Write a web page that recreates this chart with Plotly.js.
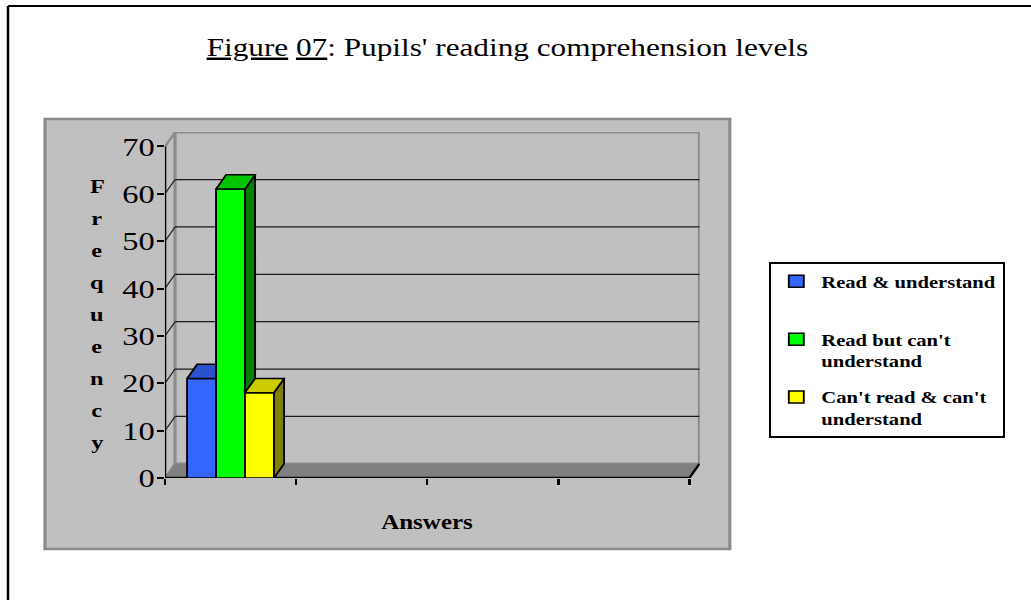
<!DOCTYPE html>
<html><head><meta charset="utf-8">
<script src="https://cdn.plot.ly/plotly-3.0.1.min.js"></script>
<style>
html,body{margin:0;padding:0;background:#fff;overflow:hidden}
#wrap{width:1031px;height:600px;overflow:hidden;position:relative}
#chart{width:825px;height:600px;transform:scaleX(1.2497);transform-origin:0 0}
</style></head><body><div id="wrap"><div id="chart"></div></div>
<script>
// ---- data ----
const seriesNames = ["Read & understand", "Read but can't understand", "Can't read & can't understand"];
const legendLabels = ["Read & understand<br> ", "Read but can't<br>understand", "Can't read & can't<br>understand"];
const seriesValues = [21, 61, 18];
const yTickValues = [0, 10, 20, 30, 40, 50, 60, 70];
const xSlotTicks = [0, 1, 2, 3, 4];
const categoryPos = 0.5;
const titleText = "<u>Figure</u> <u>07</u>: Pupils' reading comprehension levels";
const yTitle = "Frequency";
const xTitle = "Answers";

// ---- styles ----
const frontColors = ["#3366FF", "#00FF00", "#FFFF00"];
const topColors = ["#2B52CC", "#00C400", "#CCCC00"];
const sideColors = ["#1F3D99", "#008000", "#808000"];
const BW = 0.221, DX = 0.077, DY = 3.0, YMAX = 70, NS = 4;
const FONT = "Liberation Serif, Times New Roman, serif";

const traces = [];
seriesValues.forEach((v, i) => {
  traces.push({
    type: 'bar', x: [categoryPos], y: [v], width: [BW], offset: [-1.5 * BW + i * BW],
    name: legendLabels[i], legendgroup: 'g' + i,
    marker: {color: frontColors[i], line: {color: '#000', width: 1.5}},
    hovertemplate: seriesNames[i] + ': %{y}<extra></extra>'
  });
});
seriesValues.forEach((v, i) => {
  const x0 = categoryPos - 1.5 * BW + i * BW, x1 = x0 + BW;
  const next = i + 1 < seriesValues.length ? seriesValues[i + 1] : 0;
  let top;
  if (next > v) {
    top = [[x0, v], [x1, v], [x1, v + DY], [x0 + DX, v + DY], [x0, v]];
  } else {
    top = [[x0, v], [x1, v], [x1 + DX, v + DY], [x0 + DX, v + DY], [x0, v]];
    const side = [[x1, next], [x1, v], [x1 + DX, v + DY], [x1 + DX, next + DY], [x1, next]];
    traces.push({type: 'scatter', mode: 'lines', x: side.map(p => p[0]), y: side.map(p => p[1]),
      fill: 'toself', fillcolor: sideColors[i], line: {color: '#000', width: 1.5},
      showlegend: false, hoverinfo: 'skip'});
  }
  traces.push({type: 'scatter', mode: 'lines', x: top.map(p => p[0]), y: top.map(p => p[1]),
    fill: 'toself', fillcolor: topColors[i], line: {color: '#000', width: 1.5},
    showlegend: false, hoverinfo: 'skip'});
});

// plot area in (unscaled) px: left 132, right 560, top 132, bottom 478
const L = 132, R = 560, T = 132, B = 478, W = 825, H = 600;
const px = x => (x - L) / (R - L);
const py = y => (B - y) / (B - T);

const shapes = [];
// outer frame (top + left lines)
shapes.push({type: 'line', xref: 'paper', yref: 'paper', x0: px(6.4), x1: px(900), y0: py(6), y1: py(6), line: {color: '#000', width: 2}, layer: 'below'});
shapes.push({type: 'line', xref: 'paper', yref: 'paper', x0: px(6.4), x1: px(6.4), y0: py(6), y1: py(700), line: {color: '#000', width: 2}, layer: 'below'});
// chart area
shapes.push({type: 'rect', xref: 'paper', yref: 'paper', x0: px(36), x1: px(584), y0: py(549), y1: py(119),
  fillcolor: '#C0C0C0', line: {color: '#8A8A8A', width: 2.5}, layer: 'below'});
// left wall
shapes.push({type: 'path', xref: 'x', yref: 'y', path: `M0,0 L${DX},${DY} L${DX},${YMAX + DY} L0,${YMAX} Z`,
  fillcolor: '#C0C0C0', line: {color: '#8C8C8C', width: 2}, layer: 'below'});
// back wall
shapes.push({type: 'rect', xref: 'x', yref: 'y', x0: DX, x1: NS + DX, y0: DY, y1: YMAX + DY,
  fillcolor: '#C0C0C0', line: {color: '#8C8C8C', width: 2.5}, layer: 'below'});
// floor
shapes.push({type: 'path', xref: 'x', yref: 'y', path: `M0,0 L${NS},0 L${NS + DX},${DY} L${DX},${DY} Z`,
  fillcolor: '#808080', line: {width: 0}, layer: 'below'});
shapes.push({type: 'line', xref: 'x', yref: 'y', x0: NS, y0: 0, x1: NS + DX, y1: DY, line: {color: '#000', width: 2}, layer: 'below'});
// gridlines
yTickValues.filter(v => v > 0 && v < YMAX).forEach(v => {
  shapes.push({type: 'line', xref: 'x', yref: 'y', x0: DX, x1: NS + DX, y0: v + DY, y1: v + DY, line: {color: '#1a1a1a', width: 1.2}, layer: 'below'});
  shapes.push({type: 'line', xref: 'x', yref: 'y', x0: 0, x1: DX, y0: v, y1: v + DY, line: {color: '#1a1a1a', width: 1}, layer: 'below'});
});
// axis lines
shapes.push({type: 'line', xref: 'x', yref: 'y', x0: 0, x1: 0, y0: 0, y1: YMAX, line: {color: '#000', width: 2}, layer: 'below'});
shapes.push({type: 'line', xref: 'x', yref: 'y', x0: 0, x1: NS, y0: 0, y1: 0, line: {color: '#000', width: 2.5}, layer: 'below'});

const annotations = [];
yTitle.split('').forEach((ch, i) => {
  annotations.push({xref: 'paper', yref: 'paper', x: px(77.6), y: py(186 + 32 * i), text: ch, showarrow: false,
    xanchor: 'center', yanchor: 'middle', font: {family: FONT, size: 19.5, color: '#000', weight: 'bold'}});
});
annotations.push({xref: 'paper', yref: 'paper', x: px(342.4), y: py(522), text: xTitle, showarrow: false,
  xanchor: 'center', yanchor: 'middle', font: {family: FONT, size: 20, color: '#000', weight: 'bold'}});

const layout = {
  width: W, height: H,
  margin: {l: L, r: W - R, t: T, b: H - B, pad: 0},
  paper_bgcolor: '#fff', plot_bgcolor: 'rgba(0,0,0,0)',
  title: {text: titleText, font: {family: FONT, size: 25, color: '#000'},
    xref: 'container', yref: 'container', x: 406 / W, xanchor: 'center', y: 1 - 47 / H, yanchor: 'middle'},
  barmode: 'overlay',
  showlegend: true,
  legend: {x: px(615.2), y: py(262), xanchor: 'left', yanchor: 'top', bgcolor: '#fff', bordercolor: '#000', borderwidth: 2,
    font: {family: FONT, size: 16.5, color: '#000', weight: 'bold'}, valign: 'top', traceorder: 'grouped', tracegroupgap: 12,
    itemclick: false, itemdoubleclick: false},
  xaxis: {range: [0, NS + 0.08], tickvals: xSlotTicks, ticks: 'outside', ticklen: 6, tickwidth: 1.6, tickcolor: '#000',
    showticklabels: false, showgrid: false, zeroline: false, showline: false, fixedrange: true},
  yaxis: {range: [0, (B - T) / 4.737], tickvals: yTickValues, ticktext: yTickValues.map(String), ticks: 'outside', ticklen: 5, tickwidth: 2,
    tickcolor: '#000', tickfont: {family: FONT, size: 26, color: '#000'}, ticklabelstandoff: -3,
    showgrid: false, zeroline: false, showline: false, fixedrange: true},
  shapes: shapes, annotations: annotations
};
Plotly.newPlot('chart', traces, layout, {displayModeBar: false});
</script></body></html>
